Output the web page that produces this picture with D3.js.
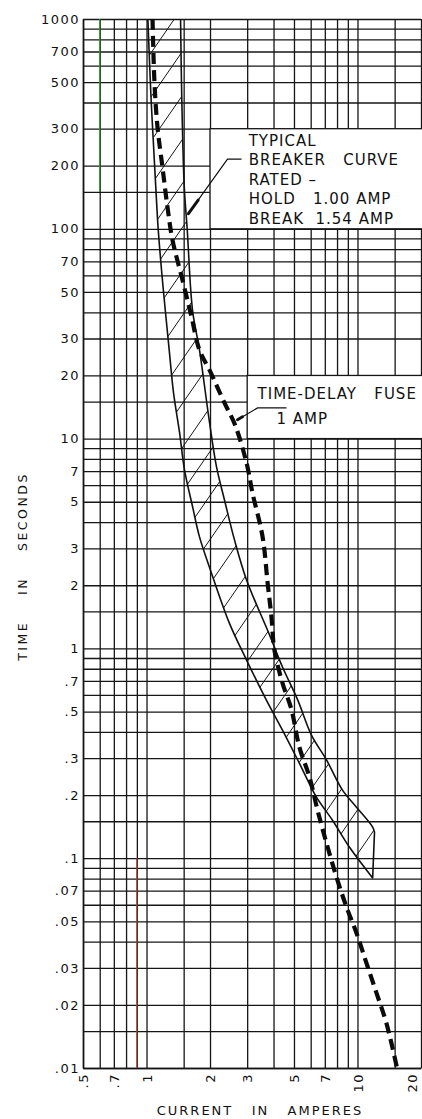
<!DOCTYPE html>
<html>
<head>
<meta charset="utf-8">
<script src="https://cdn.jsdelivr.net/npm/d3@7"></script>
<style>
body { margin: 0; background: #fff; }
svg { display: block; font-family: "DejaVu Sans", sans-serif; }
</style>
</head>
<body>
<div id="chart"></div>
<script>
// grid of the log-log paper
var currentGrid = [0.5, 0.6, 0.7, 0.8, 0.9, 1, 1.5, 2, 3, 4, 5, 6, 7, 8, 9, 10, 15, 20];
var currentTicks = [0.5, 0.7, 1, 2, 3, 5, 7, 10, 20];
var currentLabels = [".5", ".7", "1", "2", "3", "5", "7", "10", "20"];

var timeGrid = [1000, 900, 800, 700, 600, 500, 400, 300, 200, 150,
                100, 90, 80, 70, 60, 50, 40, 30, 20, 15,
                10, 9, 8, 7, 6, 5, 4, 3, 2, 1.5,
                1, 0.9, 0.8, 0.7, 0.6, 0.5, 0.4, 0.3, 0.2, 0.15,
                0.1, 0.09, 0.08, 0.07, 0.06, 0.05, 0.04, 0.03, 0.02, 0.015, 0.01];
var timeTicks = [1000, 700, 500, 300, 200, 100, 70, 50, 30, 20, 10, 7, 5, 3, 2, 1,
                 0.7, 0.5, 0.3, 0.2, 0.1, 0.07, 0.05, 0.03, 0.02, 0.01];
var timeLabels = ["1000", "700", "500", "300", "200", "100", "70", "50", "30", "20", "10", "7", "5", "3", "2", "1",
                  ".7", ".5", ".3", ".2", ".1", ".07", ".05", ".03", ".02", ".01"];

// breaker band, lower-left edge (minimum trip)
var breakerMinAmps = [1.015, 1.05, 1.075, 1.105, 1.135, 1.178, 1.23, 1.285, 1.343, 1.434, 1.514, 1.66,
                      1.783, 2.01, 2.47, 2.98, 3.70, 4.41, 5.30, 6.38, 7.60, 9.15, 11.8];
var breakerMinSecs = [1000, 425, 271, 162, 101, 63.6, 40, 25.6, 16.5, 10.7, 7.1, 4.65,
                      3.4, 2.36, 1.32, 0.88, 0.567, 0.408, 0.284, 0.196, 0.152, 0.113, 0.0805];

// breaker band, upper-right edge (maximum trip)
var breakerMaxAmps = [1.45, 1.47, 1.51, 1.56, 1.652, 1.783, 1.99, 2.147, 2.342, 2.612, 2.98, 3.8,
                      4.41, 5.2, 6.05, 7.13, 8.49, 9.89, 11.78, 12.04];
var breakerMaxSecs = [1000, 411, 158, 98.7, 41, 26.4, 11.9, 7.33, 5.1, 3.29, 2.12, 1.18,
                      0.815, 0.57, 0.386, 0.294, 0.211, 0.175, 0.141, 0.133];

// time-delay fuse
var fuseAmps = [1.068, 1.091, 1.127, 1.19, 1.257, 1.328, 1.481, 1.634, 1.783, 1.99, 2.342, 2.63,
                2.98, 3.18, 3.55, 3.75, 3.91, 4.04, 4.41, 4.87, 5.30, 5.92, 6.46, 7.13,
                7.95, 8.87, 9.89, 11.03, 12.3, 13.7, 15.4];
var fuseSecs = [1000, 495, 306, 197, 127, 88.4, 57, 38, 26.4, 21.2, 14.8, 11.6,
                7.65, 5.5, 3.4, 2.05, 1.41, 0.98, 0.684, 0.509, 0.339, 0.244, 0.17, 0.118,
                0.0813, 0.0585, 0.044, 0.0316, 0.0228, 0.0164, 0.01];

// leader lines of the two notes
var breakerNoteAmps = [2.82, 2.42, 1.58];
var breakerNoteSecs = [215, 215, 118];
var fuseNoteAmps = [4.61, 3.36, 2.70];
var fuseNoteSecs = [14.0, 14.0, 12.3];

var breakerNoteLines = ["TYPICAL", "BREAKER   CURVE", "RATED \u2013", "HOLD   1.00 AMP", "BREAK  1.54 AMP"];
var fuseNoteLines = ["TIME-DELAY   FUSE", "1 AMP"];

var width = 422, height = 1119;
var plotLeft = 83, plotRight = 421, plotTop = 19, plotBottom = 1068;
var ink = "#161616";

var x = d3.scaleLog().domain([0.5, 20]).range([plotLeft, plotRight]);
var y = d3.scaleLog().domain([0.01, 1000]).range([plotBottom, plotTop]);

var svg = d3.select("#chart").append("svg")
    .attr("width", width)
    .attr("height", height);

svg.append("rect").attr("width", width).attr("height", height).attr("fill", "#fff");

svg.append("clipPath").attr("id", "plot")
  .append("rect")
    .attr("x", plotLeft).attr("y", plotTop)
    .attr("width", plotRight - plotLeft).attr("height", plotBottom - plotTop);

// vertical grid + current labels
var xAxis = d3.axisBottom(x)
    .tickValues(currentGrid)
    .tickSize(-(plotBottom - plotTop))
    .tickSizeOuter(0)
    .tickFormat(function(d){
        var k = currentTicks.indexOf(d);
        return k < 0 ? "" : currentLabels[k];
    });

var gx = svg.append("g")
    .attr("transform", "translate(0," + plotBottom + ")")
    .call(xAxis);

// horizontal grid + time labels
var yAxis = d3.axisLeft(y)
    .tickValues(timeGrid)
    .tickSize(-(plotRight - plotLeft))
    .tickSizeOuter(0)
    .tickPadding(3)
    .tickFormat(function(d){
        var k = timeTicks.indexOf(d);
        return k < 0 ? "" : timeLabels[k];
    });

var gy = svg.append("g")
    .attr("transform", "translate(" + plotLeft + ",0)")
    .call(yAxis);

[gx, gy].forEach(function(g){
    g.selectAll(".tick line").attr("stroke", ink).attr("stroke-width", 1.3);
    g.select(".domain").attr("stroke", ink).attr("stroke-width", 1.6);
    g.selectAll("text")
        .attr("fill", "#111")
        .style("font-family", "\"DejaVu Sans\", sans-serif")
        .style("font-size", "13px")
        .style("letter-spacing", "1.5px");
});

// current labels stand on their side, reading upward;
// the last one is nudged in so the page edge does not cut it
gx.selectAll(".tick text")
    .attr("transform", "rotate(-90)")
    .attr("text-anchor", "end")
    .attr("x", -5)
    .attr("y", function(d){ return x(d) > width - 6 ? -9 : 0; })
    .attr("dy", "0.36em");

// stray coloured rulings of the scanned sheet
var tinted = [
    { amps: 0.6, from: 150, to: 1000, color: "#2f9a3a" },
    { amps: 0.9, from: 0.01, to: 0.1, color: "#a8443c" }
];
svg.selectAll(".tint")
    .data(tinted)
    .enter()
    .append("line")
    .attr("class", "tint")
    .attr("x1", function(d){ return x(d.amps); })
    .attr("x2", function(d){ return x(d.amps); })
    .attr("y1", function(d){ return y(d.to); })
    .attr("y2", function(d){ return y(d.from); })
    .attr("stroke", function(d){ return d.color; })
    .attr("stroke-width", 1.3);

// white boxes that carry the notes
var boxes = [
    { a0: 2, a1: 20, s0: 100, s1: 300 },
    { a0: 3, a1: 20, s0: 10, s1: 20 }
];
svg.selectAll(".box")
    .data(boxes)
    .enter()
    .append("rect")
    .attr("class", "box")
    .attr("x", function(d){ return x(d.a0); })
    .attr("y", function(d){ return y(d.s1); })
    .attr("width", function(d){ return x(d.a1) - x(d.a0) + 2; })
    .attr("height", function(d){ return y(d.s0) - y(d.s1); })
    .attr("fill", "#fff")
    .attr("stroke", ink)
    .attr("stroke-width", 1.3);

// curves
var curve = d3.line()
    .x(function(d){ return x(d[0]); })
    .y(function(d){ return y(d[1]); })
    .curve(d3.curveCatmullRom.alpha(0.5));

var minPts = d3.zip(breakerMinAmps, breakerMinSecs);
var maxPts = d3.zip(breakerMaxAmps, breakerMaxSecs);
var bandPath = curve(minPts) + curve(maxPts.slice().reverse()).replace(/^M/, "L") + "Z";

svg.append("clipPath").attr("id", "band")
  .append("path")
    .attr("d", bandPath);

var plot = svg.append("g").attr("clip-path", "url(#plot)");

// hatching: parallel strokes clipped to the band
var nx = 0.823, ny = 0.568;        // normal of the hatch strokes
var dirx = ny, diry = -nx;          // along the stroke
var spacing = 25;
var c0 = nx * x(breakerMinAmps[1]) + ny * y(breakerMinSecs[1]);
var hatch = d3.range(-60, 60).map(function(k){
    var c = c0 + k * spacing;
    return [nx * c - dirx * 1500, ny * c - diry * 1500, nx * c + dirx * 1500, ny * c + diry * 1500];
});

plot.append("g")
    .attr("clip-path", "url(#band)")
  .selectAll("line")
    .data(hatch)
    .enter()
    .append("line")
    .attr("x1", function(d){ return d[0]; })
    .attr("y1", function(d){ return d[1]; })
    .attr("x2", function(d){ return d[2]; })
    .attr("y2", function(d){ return d[3]; })
    .attr("stroke", ink)
    .attr("stroke-width", 1);

plot.append("path")
    .attr("d", bandPath)
    .attr("fill", "none")
    .attr("stroke", "#111")
    .attr("stroke-width", 1.6)
    .attr("stroke-linejoin", "round");

plot.append("path")
    .attr("d", curve(d3.zip(fuseAmps, fuseSecs)))
    .attr("fill", "none")
    .attr("stroke", "#0b0b0b")
    .attr("stroke-width", 4.2)
    .attr("stroke-dasharray", "11,6");

// notes
var leader = d3.line()
    .x(function(d){ return x(d[0]); })
    .y(function(d){ return y(d[1]); });

function drawNote(amps, secs){
    var pts = d3.zip(amps, secs);
    svg.append("path")
        .attr("d", leader(pts))
        .attr("fill", "none")
        .attr("stroke", "#111")
        .attr("stroke-width", 1.2);
    // heavier tip where the leader meets the curve
    var a = pts[pts.length - 2], b = pts[pts.length - 1];
    var ax = x(a[0]), ay = y(a[1]), bx = x(b[0]), by = y(b[1]);
    svg.append("line")
        .attr("x1", bx + (ax - bx) * 0.25).attr("y1", by + (ay - by) * 0.25)
        .attr("x2", bx).attr("y2", by)
        .attr("stroke", "#111")
        .attr("stroke-width", 3)
        .attr("stroke-linecap", "round");
}

drawNote(breakerNoteAmps, breakerNoteSecs);
drawNote(fuseNoteAmps, fuseNoteSecs);

svg.append("g")
  .selectAll("text")
    .data(breakerNoteLines)
    .enter()
    .append("text")
    .attr("x", x(3.05))
    .attr("y", function(d, i){ return y(300) + 17 + i * 19.5; })
    .text(function(d){ return d; })
    .attr("fill", "#111")
    .style("font-size", "15px")
    .style("letter-spacing", "1px")
    .style("white-space", "pre");

svg.append("g")
  .selectAll("text")
    .data(fuseNoteLines)
    .enter()
    .append("text")
    .attr("x", function(d, i){ return i == 0 ? x(3.36) : x(4.13); })
    .attr("y", function(d, i){ return y(20) + 24 + i * 25; })
    .text(function(d){ return d; })
    .attr("fill", "#111")
    .style("font-size", "15px")
    .style("letter-spacing", "1px")
    .style("white-space", "pre");

// axis titles
svg.append("text")
    .attr("transform", "translate(26.5," + ((plotTop + plotBottom) / 2 + 23) + ") rotate(-90)")
    .attr("text-anchor", "middle")
    .attr("fill", "#111")
    .style("font-size", "12.5px")
    .style("letter-spacing", "2.5px")
    .style("white-space", "pre")
    .text("TIME    IN    SECONDS");

svg.append("text")
    .attr("x", 260)
    .attr("y", 1115)
    .attr("text-anchor", "middle")
    .attr("fill", "#111")
    .style("font-size", "13px")
    .style("letter-spacing", "2px")
    .style("white-space", "pre")
    .text("CURRENT   IN   AMPERES");
</script>
</body>
</html>
